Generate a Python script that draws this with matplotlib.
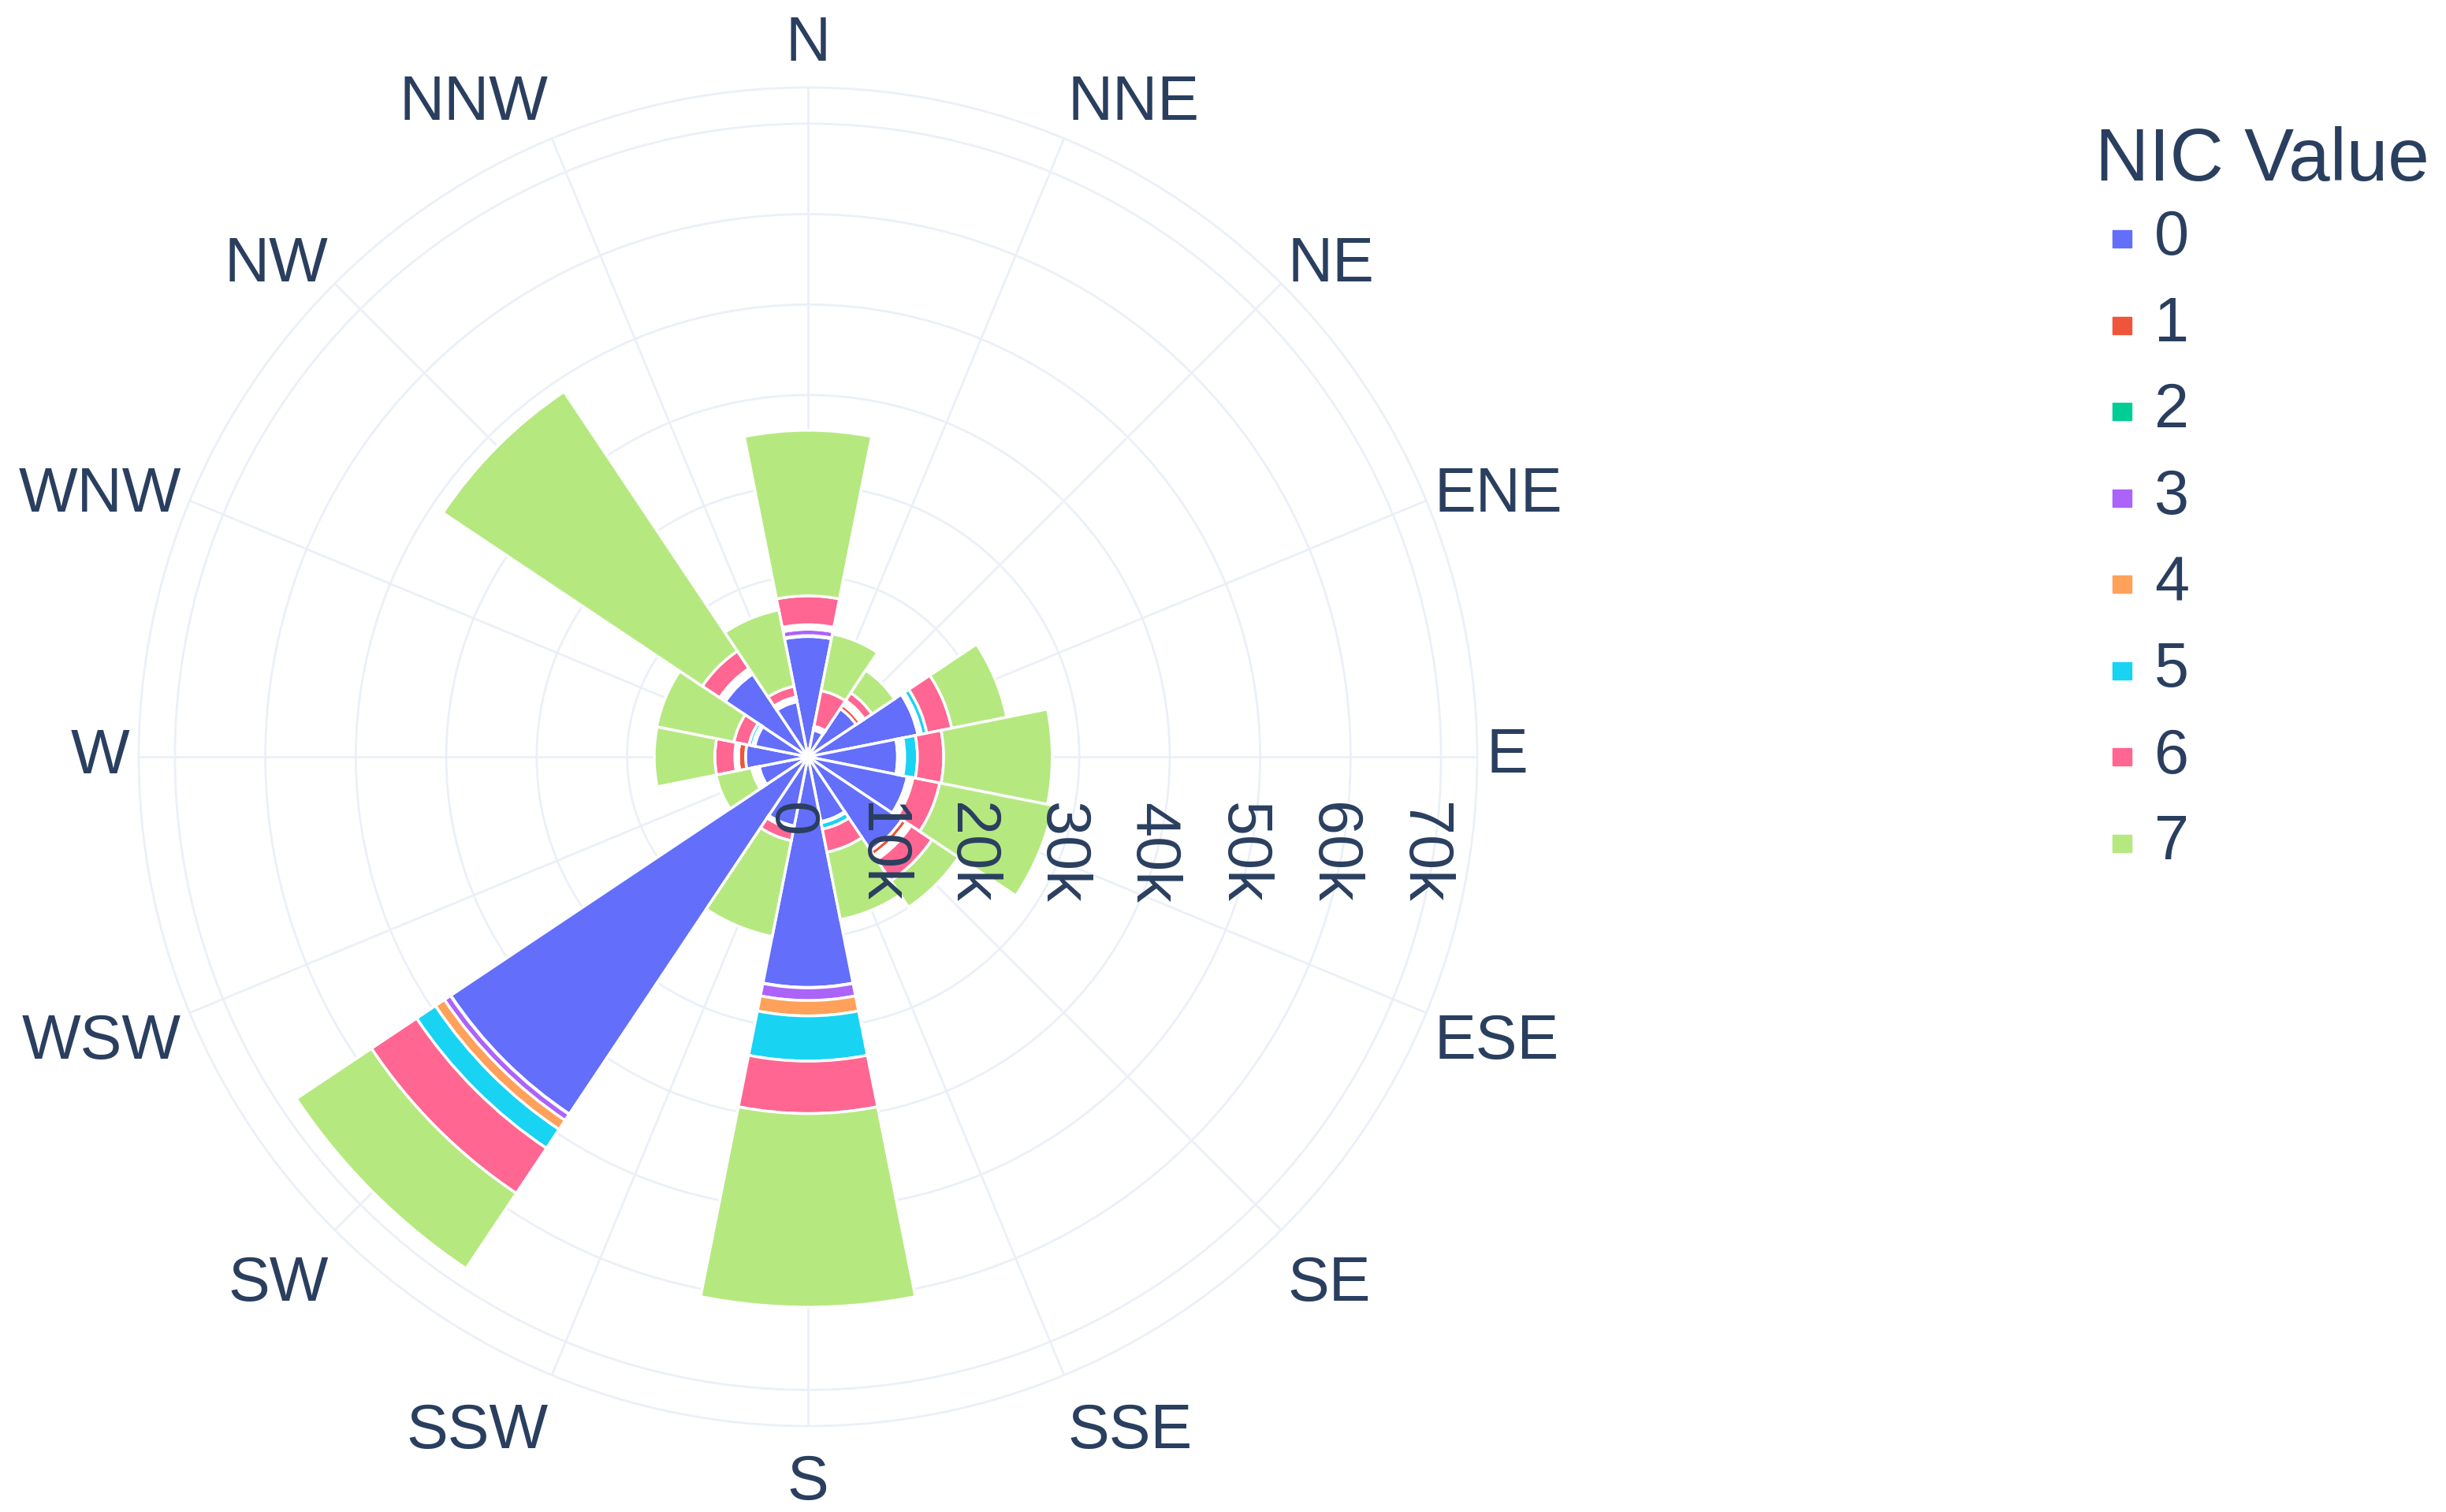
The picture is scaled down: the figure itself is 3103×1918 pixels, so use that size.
import numpy as np
import matplotlib
matplotlib.use('Agg')
import matplotlib.pyplot as plt
from matplotlib.patches import Rectangle

plt.rcParams['font.family'] = ['Liberation Sans', 'DejaVu Sans']

directions = ['N', 'NNE', 'NE', 'ENE', 'E', 'ESE', 'SE', 'SSE',
              'S', 'SSW', 'SW', 'WSW', 'W', 'WNW', 'NW', 'NNW']
nic_values = ['0', '1', '2', '3', '4', '5', '6', '7']
colors = ['#636EFA', '#EF553B', '#00CC96', '#AB63FA', '#FFA15A', '#19D3F3', '#FF6692', '#B6E880']

# counts per direction for each NIC value
nic0 = [13300, 3000, 6400, 12400, 9900, 11200, 12500, 7300, 25500, 7800, 47500, 5500, 6900, 6000, 11000, 6200]
nic1 = [100, 100, 500, 50, 200, 50, 600, 50, 50, 50, 50, 50, 800, 50, 50, 50]
nic2 = [0, 0, 100, 0, 0, 0, 0, 0, 0, 0, 0, 0, 0, 0, 0, 0]
nic3 = [700, 200, 300, 50, 300, 200, 200, 50, 1400, 100, 800, 300, 200, 100, 100, 100]
nic4 = [200, 100, 100, 300, 300, 200, 200, 50, 1700, 100, 1200, 100, 100, 100, 300, 300]
nic5 = [300, 50, 100, 600, 1400, 200, 200, 700, 5000, 100, 2500, 100, 100, 400, 300, 100]
nic6 = [3200, 4000, 1000, 2800, 2900, 3000, 2800, 2600, 5800, 1300, 6000, 300, 2200, 1700, 2300, 1200]
nic7 = [18300, 6400, 3000, 6200, 12000, 12800, 3500, 7600, 21400, 10800, 10000, 4000, 6700, 8700, 34500, 8600]
series = [nic0, nic1, nic2, nic3, nic4, nic5, nic6, nic7]

rmax = 74000
radial_ticks = [0, 10000, 20000, 30000, 40000, 50000, 60000, 70000]
radial_labels = ['0', '10k', '20k', '30k', '40k', '50k', '60k', '70k']

text_color = '#2A3F5F'
grid_color = '#EBF0F8'

fig = plt.figure(figsize=(31.03, 19.18), dpi=100)
ax = fig.add_axes([176/3103, 109/1918, 1698/3103, 1698/1918], projection='polar')
ax.set_theta_zero_location('N')
ax.set_theta_direction(-1)

theta = np.arange(len(directions)) * 2 * np.pi / len(directions)
width = 2 * np.pi / len(directions)
bottom = np.zeros(len(directions))
for vals, c in zip(series, colors):
    vals = np.array(vals, dtype=float)
    ax.bar(theta, vals, width=width, bottom=bottom, color=c,
           edgecolor='white', linewidth=2.5, zorder=3)
    bottom += vals

ax.set_ylim(0, rmax)
ax.set_yticks(radial_ticks[1:])
ax.set_yticklabels([])
ax.set_xticks(theta)
ax.set_xticklabels([])
ax.grid(True, color=grid_color, linewidth=2, zorder=0)
ax.spines['polar'].set_color(grid_color)
ax.spines['polar'].set_linewidth(2)
ax.set_axisbelow(True)

# direction labels outside the circle, anchored at their inner edge
for t, d in zip(theta, directions):
    s, c = np.sin(t), np.cos(t)
    ha = 'left' if s > 0.1 else ('right' if s < -0.1 else 'center')
    if c > 0:
        dy = 31 * c ** 3
    else:
        dy = -44 * min(1.0, abs(c) / 0.7)
    ax.annotate(d, xy=(t, 75000), xytext=(0, dy), textcoords='offset points',
                ha=ha, va='center', fontsize=57, color=text_color,
                annotation_clip=False)

# radial tick labels, rotated, just below the east axis
for r, lab in zip(radial_ticks, radial_labels):
    ax.text(0.486 + 0.5 * r / rmax, 0.466, lab, transform=ax.transAxes,
            rotation=-90, ha='center', va='top', fontsize=57,
            color=text_color, zorder=5)

# legend
fig.text(2658/3103, 1 - 204/1918, 'NIC Value', fontsize=68, color=text_color,
         ha='left', va='center')
for i, (lab, c) in enumerate(zip(nic_values, colors)):
    yc = 1 - (303 + 109.5 * i) / 1918
    fig.patches.append(Rectangle((2680/3103, yc - 11/1918), 24/3103, 22/1918,
                                 transform=fig.transFigure, color=c))
    fig.text(2733/3103, yc, lab, fontsize=57, color=text_color,
             ha='left', va='center')

fig.savefig('out.png', dpi=100, facecolor='white')
